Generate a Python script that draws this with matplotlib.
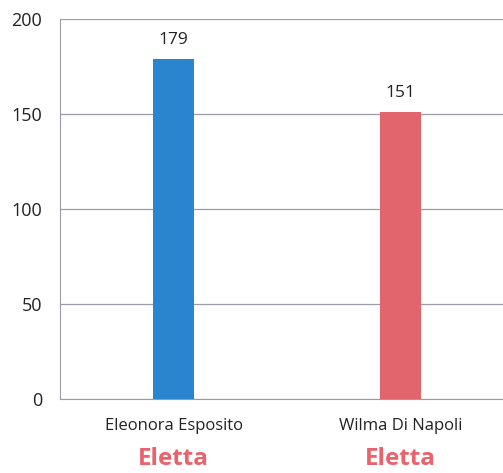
import matplotlib
matplotlib.use('Agg')
import matplotlib.pyplot as plt

# data
candidates = ['Eleonora Esposito', 'Wilma Di Napoli']
votes = [179, 151]
status = ['Eletta', 'Eletta']
bar_colors = ['#2B85CE', '#E2646C']
yticks = [0, 50, 100, 150, 200]

plt.rcParams['font.family'] = ['Open Sans', 'DejaVu Sans']

fig = plt.figure(figsize=(5.03, 4.73), dpi=100)
ax = fig.add_axes([60 / 503, 1 - 399 / 473, 1 - 60 / 503, 380 / 473])

x = list(range(len(candidates)))
bars = ax.bar(x, votes, width=0.18, color=bar_colors, zorder=3)

for b, v in zip(bars, votes):
    ax.text(b.get_x() + b.get_width() / 2, v + 6, str(v),
            ha='center', va='bottom', fontsize=12.5, color='#222222')

ax.set_xlim(-0.5, 1.45)
ax.set_ylim(0, 200)
ax.set_yticks(yticks)
ax.set_yticklabels([str(t) for t in yticks], fontsize=13, color='#222222')
ax.tick_params(axis='y', length=0, pad=13)
ax.set_xticks(x)
ax.set_xticklabels(candidates, fontsize=12, color='#222222')
ax.tick_params(axis='x', length=0, pad=14)

for xi, s in zip(x, status):
    ax.text(xi, -0.158, s, transform=ax.get_xaxis_transform(),
            ha='center', va='center', fontsize=17.5, fontweight='bold',
            color='#E8636B')

ax.grid(axis='y', color='#9a9aa8', linewidth=0.9, zorder=0)
for side in ['top', 'right']:
    ax.spines[side].set_visible(False)
ax.spines['left'].set_color('#9a9aa8')
ax.spines['bottom'].set_color('#9a9aa8')

fig.savefig('out.png', dpi=100)
